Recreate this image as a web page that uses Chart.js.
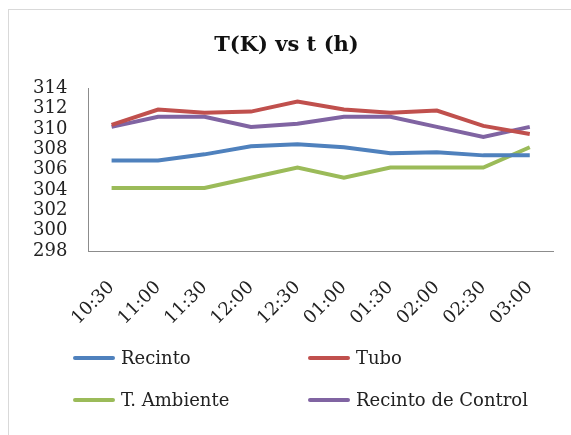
<!DOCTYPE html>
<html>
<head>
<meta charset="utf-8">
<script src="https://cdn.jsdelivr.net/npm/chart.js@4"></script>
<style>
  body { margin: 0; background: #fff; }
  #wrap { position: relative; width: 571px; height: 435px; overflow: hidden; }
  #frame { position: absolute; left: 8px; top: 9px; width: 580px; height: 440px; border: 1px solid #d9d9d9; }
  #chart { position: absolute; left: 0; top: 0; }
  .leg { position: absolute; font-family: "DejaVu Serif", serif; font-size: 18px; color: #222; line-height: 20px; }
  .leg span.sw { position: absolute; left: 0; top: 8px; width: 42px; height: 4px; border-radius: 2px; }
  .leg span.tx { position: absolute; left: 48px; top: 0; white-space: nowrap; }
</style>
</head>
<body>
<div id="wrap">
  <div id="frame"></div>
  <canvas id="chart" width="571" height="435"></canvas>
  <div id="legend"></div>
</div>
<script>
let horas = ['10:30','11:00','11:30','12:00','12:30','01:00','01:30','02:00','02:30','03:00'];
let recinto = [306.9,306.9,307.5,308.3,308.5,308.2,307.6,307.7,307.4,307.4];
let tubo = [310.4,311.9,311.6,311.7,312.7,311.9,311.6,311.8,310.3,309.5];
let ambiente = [304.2,304.2,304.2,305.2,306.2,305.2,306.2,306.2,306.2,308.2];
let control = [310.2,311.2,311.2,310.2,310.5,311.2,311.2,310.2,309.2,310.2];
let nombres = ['Recinto','Tubo','T. Ambiente','Recinto de Control'];
let colores = ['#4f81bd','#c0504d','#9bbb59','#8064a2'];

let series = [recinto, tubo, ambiente, control];
let datasets = [];
for (let i = 0; i < series.length; i++) {
    datasets.push({
        label: nombres[i],
        data: series[i],
        borderColor: colores[i],
        backgroundColor: colores[i],
        borderWidth: 4,
        pointRadius: 0,
        tension: 0,
        fill: false
    });
}

let fuente = 'DejaVu Serif';
let config = {
    type: 'line',
    data: { labels: horas, datasets: datasets },
    options: {
        responsive: false,
        animation: false,
        layout: { padding: { left: 20, right: 18, top: 33, bottom: 88 } },
        plugins: {
            legend: { display: false },
            tooltip: { enabled: false },
            title: {
                display: true,
                text: 'T(K) vs t (h)',
                color: '#111',
                font: { family: fuente, size: 21, weight: 'bold' },
                padding: { top: 0, bottom: 30 }
            }
        },
        scales: {
            x: {
                offset: true,
                grid: { display: false },
                border: { display: true, color: '#8c8c8c', width: 1 },
                ticks: {
                    color: '#222',
                    font: { family: fuente, size: 18 },
                    minRotation: 45,
                    maxRotation: 45,
                    autoSkip: false,
                    padding: 18
                }
            },
            y: {
                min: 298,
                max: 314,
                grid: { display: false },
                border: { display: true, color: '#8c8c8c', width: 1 },
                ticks: {
                    stepSize: 2,
                    autoSkip: false,
                    color: '#222',
                    font: { family: fuente, size: 18 },
                    padding: 13
                }
            }
        }
    }
};
let grafico = new Chart(document.getElementById('chart'), config);

// leyenda en dos columnas
let pos = [[73, 348], [308, 348], [73, 390], [308, 390]];
let legend = document.getElementById('legend');
for (let i = 0; i < nombres.length; i++) {
    let d = document.createElement('div');
    d.className = 'leg';
    d.style.left = pos[i][0] + 'px';
    d.style.top = pos[i][1] + 'px';
    d.innerHTML = '<span class="sw" style="background:' + colores[i] + '"></span><span class="tx">' + nombres[i] + '</span>';
    legend.appendChild(d);
}
</script>
</body>
</html>
